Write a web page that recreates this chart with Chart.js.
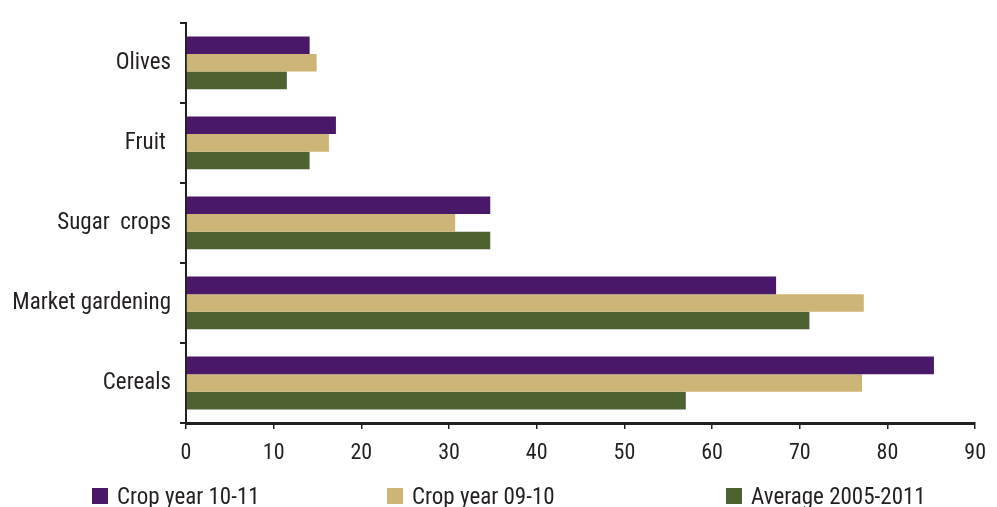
<!DOCTYPE html>
<html>
<head>
<meta charset="utf-8">
<script src="https://cdn.jsdelivr.net/npm/chart.js@4/dist/chart.umd.min.js"></script>
<style>
  html, body { margin: 0; padding: 0; background: #ffffff; }
  #wrap { width: 997px; height: 507px; position: relative; }
</style>
</head>
<body>
<div id="wrap"><canvas id="c" width="997" height="507"></canvas></div>
<script>
// Crop categories, top to bottom
const categories = ['Olives', 'Fruit ', 'Sugar  crops', 'Market gardening', 'Cereals'];

// Series values per category
const crop1011 = [14.1, 17.1, 34.7, 67.3, 85.3];
const crop0910 = [14.9, 16.3, 30.7, 77.3, 77.1];
const avg0511  = [11.5, 14.1, 34.7, 71.1, 57.0];

const seriesNames = ['Crop year 10-11', 'Crop year 09-10', 'Average 2005-2011'];

// Value axis ticks
const xTicks = [0, 10, 20, 30, 40, 50, 60, 70, 80, 90];

const INK = '#231f20';
const FONT = "'Roboto Condensed', 'DejaVu Sans Condensed', sans-serif";

// Legend painted along the bottom edge at fixed horizontal slots
const bottomLegend = {
  id: 'bottomLegend',
  afterDraw(chart, args, opts) {
    const ctx = chart.ctx;
    ctx.save();
    ctx.font = opts.fontSize + 'px ' + FONT;
    ctx.textBaseline = 'alphabetic';
    ctx.textAlign = 'left';
    chart.data.datasets.forEach((ds, i) => {
      const x = opts.slots[i];
      ctx.fillStyle = ds.backgroundColor;
      ctx.fillRect(x, opts.boxTop, opts.box, opts.box);
      ctx.fillStyle = INK;
      ctx.fillText(ds.label, x + opts.box + opts.gap, opts.baseline);
    });
    ctx.restore();
  }
};

function build() {
  new Chart(document.getElementById('c'), {
    type: 'bar',
    data: {
      labels: categories,
      datasets: [
        { label: seriesNames[0], data: crop1011, backgroundColor: '#4a1869' },
        { label: seriesNames[1], data: crop0910, backgroundColor: '#cdb577' },
        { label: seriesNames[2], data: avg0511,  backgroundColor: '#4e6131' }
      ]
    },
    options: {
      indexAxis: 'y',
      responsive: false,
      animation: false,
      layout: { padding: { left: 0, right: 11, top: 11, bottom: 0 } },
      datasets: {
        bar: { categoryPercentage: 0.66, barPercentage: 1.0, borderWidth: 0 }
      },
      plugins: {
        legend: { display: false },
        tooltip: { enabled: false },
        bottomLegend: {
          slots: [92, 387, 726],
          box: 16,
          gap: 9,
          boxTop: 488,
          baseline: 504,
          fontSize: 23
        }
      },
      scales: {
        x: {
          type: 'linear',
          min: 0,
          max: 90,
          afterBuildTicks(scale) { scale.ticks = xTicks.map(v => ({ value: v })); },
          afterFit(scale) { scale.height = 84; },
          border: { display: true, color: INK, width: 3 },
          grid: { drawOnChartArea: false, drawTicks: true, tickLength: 6, color: INK, lineWidth: 1.5 },
          ticks: { color: INK, padding: 11, font: { family: FONT, size: 22 }, maxRotation: 0 }
        },
        y: {
          type: 'category',
          offset: true,
          afterFit(scale) { scale.width = 186; },
          border: { display: true, color: INK, width: 2 },
          grid: { offset: true, drawOnChartArea: false, drawTicks: true, tickLength: 6, color: INK, lineWidth: 2 },
          ticks: { color: INK, padding: 9, font: { family: FONT, size: 23 } }
        }
      }
    },
    plugins: [bottomLegend]
  });
}

// Make sure the condensed face is ready before the canvas is painted
document.fonts.load("22px 'Roboto Condensed'").then(build, build);
</script>
</body>
</html>
